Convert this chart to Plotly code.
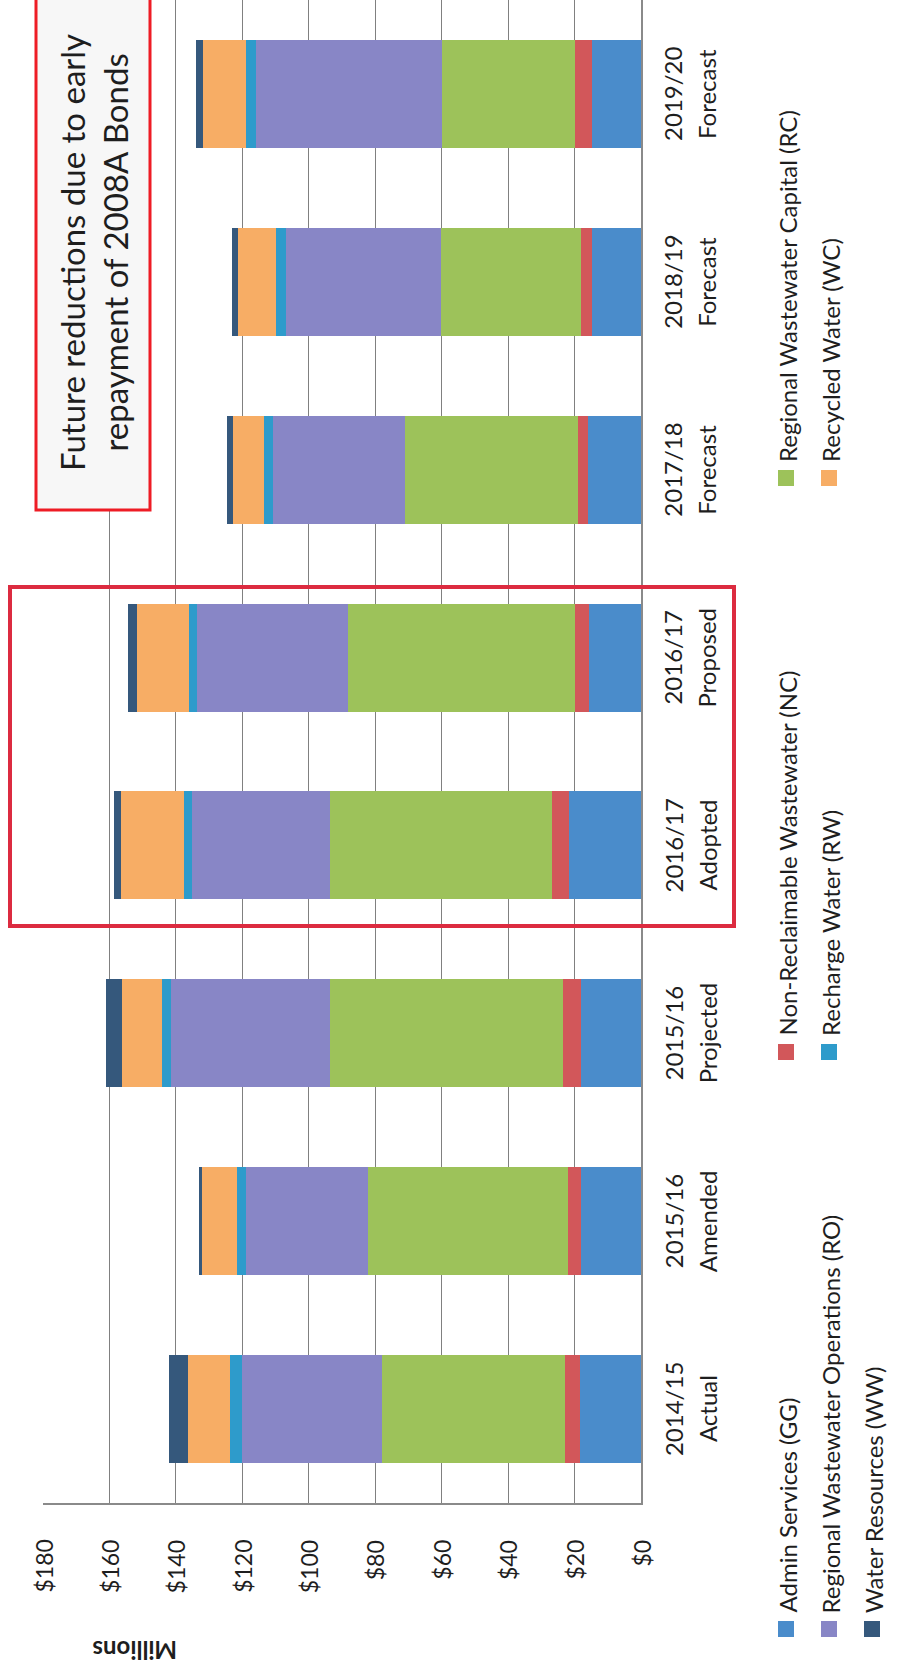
import plotly.graph_objects as go

# ---------------- data ----------------
years = ["2014/15", "2015/16", "2015/16", "2016/17", "2016/17", "2017/18", "2018/19", "2019/20"]
stages = ["Actual", "Amended", "Projected", "Adopted", "Proposed", "Forecast", "Forecast", "Forecast"]
categories = [f"{y} {s}" for y, s in zip(years, stages)]

series_names = [
    "Admin Services (GG)",
    "Non-Reclaimable Wastewater (NC)",
    "Regional Wastewater Capital (RC)",
    "Regional Wastewater Operations (RO)",
    "Recharge Water (RW)",
    "Recycled Water (WC)",
    "Water Resources (WW)",
]
series_colors = ["#4A8CCB", "#D2575A", "#9DC25A", "#8886C6", "#2E9BCB", "#F7AD65", "#35587C"]

gg = [18.5, 18.2, 18.0, 21.6, 15.6, 16.1, 14.7, 14.7]
nc = [4.3, 3.8, 5.4, 5.2, 4.3, 2.9, 3.5, 5.2]
rc = [55.2, 60.2, 70.1, 66.7, 68.4, 52.0, 42.0, 40.0]
ro = [42.2, 36.7, 47.9, 41.6, 45.4, 39.8, 46.7, 56.1]
rw = [3.4, 2.6, 2.9, 2.6, 2.3, 2.6, 2.9, 2.8]
wc = [12.7, 10.9, 11.8, 18.7, 15.6, 9.5, 11.6, 13.0]
ww = [5.7, 0.5, 4.8, 2.1, 2.9, 1.7, 1.7, 2.1]
series_values = [gg, nc, rc, ro, rw, wc, ww]

tick_vals = [0, 20, 40, 60, 80, 100, 120, 140, 160, 180]
tick_text = ["$0", "$20", "$40", "$60", "$80", "$100", "$120", "$140", "$160", "$180"]

note_text = "Future reductions due to early<br>repayment of 2008A Bonds"
axis_title = "Millions"

# ---------------- layout geometry (pixels) ----------------
W, H = 898, 1669
L, R_EDGE, T, B_EDGE = 43, 641, 0, 1503
PW, PH = R_EDGE - L, B_EDGE - T


def px(x):
    return (x - L) / PW


def py(y):
    return (B_EDGE - y) / PH


FONT = "Lato, 'Open Sans', sans-serif"
TXT = "#1e1e1e"

fig = go.Figure()
for name, vals, col in zip(series_names, series_values, series_colors):
    fig.add_trace(go.Bar(
        y=categories, x=vals, name=name, orientation="h",
        marker=dict(color=col, line=dict(width=0)),
        showlegend=False,
    ))

annotations = []
shapes = []

# category labels (two rotated lines each)
for cat, yr, st in zip(categories, years, stages):
    annotations.append(dict(x=px(673), y=cat, xref="paper", yref="y", text=yr,
                            textangle=-90, showarrow=False, xanchor="center", yanchor="middle",
                            font=dict(family=FONT, size=24, color=TXT)))
    annotations.append(dict(x=px(707), y=cat, xref="paper", yref="y", text=st,
                            textangle=-90, showarrow=False, xanchor="center", yanchor="middle",
                            font=dict(family=FONT, size=24, color=TXT)))

# value-axis tick labels, rotated
for v, t in zip(tick_vals, tick_text):
    annotations.append(dict(x=v, y=py(1538), xref="x", yref="paper", text=t,
                            textangle=-90, showarrow=False, xanchor="center", yanchor="top",
                            font=dict(family=FONT, size=23, color=TXT)))

# axis title, upside down
annotations.append(dict(x=px(135), y=py(1650), xref="paper", yref="paper", text=f"<b>{axis_title}</b>",
                        textangle=180, showarrow=False, xanchor="center", yanchor="middle",
                        font=dict(family=FONT, size=24, color=TXT)))

# legend (rotated): rows of the original legend become columns
leg_cols = [786, 829, 872]
leg_rows = [1629, 1052, 478]
for k, (name, col) in enumerate(zip(series_names, series_colors)):
    cx = leg_cols[k // 3]
    cy = leg_rows[k % 3]
    shapes.append(dict(type="rect", xref="paper", yref="paper",
                       x0=px(cx - 8), x1=px(cx + 8), y0=py(cy + 8), y1=py(cy - 8),
                       fillcolor=col, line=dict(width=0)))
    annotations.append(dict(x=px(cx + 1), y=py(cy - 14), xref="paper", yref="paper", text=name,
                            textangle=-90, showarrow=False, xanchor="center", yanchor="bottom",
                            font=dict(family=FONT, size=24, color=TXT)))

# callout box
shapes.append(dict(type="rect", xref="paper", yref="paper",
                   x0=px(36), x1=px(150), y0=py(510), y1=py(-10),
                   fillcolor="#F7F7F7", line=dict(color="#EE1C25", width=3), layer="above"))
annotations.append(dict(x=px(93), y=py(253), xref="paper", yref="paper", text=note_text,
                        textangle=-90, showarrow=False, xanchor="center", yanchor="middle",
                        font=dict(family=FONT, size=33, color=TXT)))

# highlight box around 2016/17 bars
shapes.append(dict(type="rect", xref="paper", yref="paper",
                   x0=px(10), x1=px(734), y0=py(926), y1=py(587),
                   fillcolor="rgba(0,0,0,0)", line=dict(color="#DC2B40", width=4), layer="above"))

fig.update_layout(
    width=W, height=H,
    margin=dict(l=L, r=W - R_EDGE, t=T, b=H - B_EDGE, pad=0),
    barmode="stack", bargap=0.425,
    paper_bgcolor="white", plot_bgcolor="white",
    font=dict(family=FONT, color=TXT),
    xaxis=dict(
        range=[180, 0], tickvals=tick_vals, showticklabels=False,
        showgrid=True, gridcolor="#808080", gridwidth=1.3,
        showline=True, linecolor="#8a8a8a", linewidth=2, zeroline=False, ticks="",
    ),
    yaxis=dict(
        range=[-0.5, 7.5], categoryorder="array", categoryarray=categories,
        side="right", showline=True, linecolor="#8a8a8a", linewidth=2,
        showticklabels=False, showgrid=False, ticks="",
    ),
    annotations=annotations,
    shapes=shapes,
)

fig.write_html("out.html")
